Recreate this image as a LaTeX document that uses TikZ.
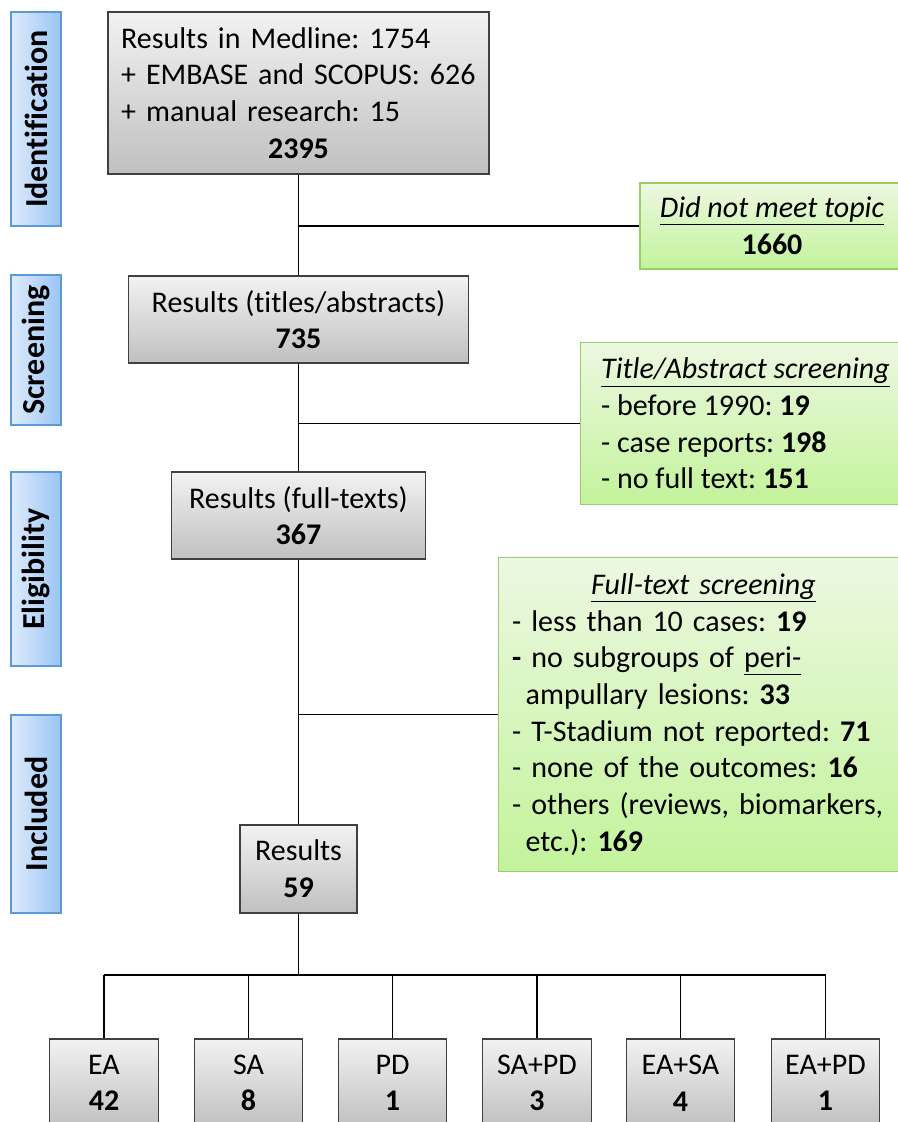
\documentclass[tikz,border=0pt]{standalone}
\usepackage{graphicx}
\usepackage{fontspec}
\setmainfont{Carlito}[Ligatures={NoCommon}]
\frenchspacing
\definecolor{labline}{RGB}{91,155,213}
\definecolor{lablight}{RGB}{222,236,252}
\definecolor{labdark}{RGB}{155,196,245}
\definecolor{resline}{RGB}{64,64,64}
\definecolor{reslight}{RGB}{242,242,242}
\definecolor{resdark}{RGB}{192,192,192}
\definecolor{exline}{RGB}{155,205,106}
\definecolor{exlight}{RGB}{236,248,225}
\definecolor{exdark}{RGB}{195,243,155}
\begin{document}
\begin{tikzpicture}[x=0.75pt,y=0.75pt,yscale=-1,xscale=1,
  font=\fontsize{22.5}{27.5}\selectfont,
  phaselab/.style={draw=labline, line width=0.9pt, left color=lablight, right color=labdark,
    minimum width=37.5pt, inner sep=0pt, font=\fontsize{24}{28}\selectfont\bfseries},
  resbox/.style={draw=resline, line width=0.9pt, top color=reslight, bottom color=resdark, inner sep=0pt},
  exbox/.style={draw=exline, line width=0.9pt, top color=exlight, bottom color=exdark, inner sep=0pt},
  catbox/.style={resbox, minimum width=81.5pt, minimum height=66pt, align=center},
  link/.style={line width=1.4pt}]
        \useasboundingbox (0,0) rectangle (898,1122);
        \clip (0,0) rectangle (898,1122);

        %Phase labels
        \node[phaselab, minimum height=160.5pt] (ident) at (36,119) {\rotatebox{90}{Identification}};
        \node[phaselab, minimum height=112.5pt] (screen) at (36,350) {\rotatebox{90}{Screening}};
        \node[phaselab, minimum height=145.5pt] (elig) at (36,569) {\rotatebox{90}{Eligibility}};
        \node[phaselab, minimum height=148.5pt] (incl) at (36,814) {\rotatebox{90}{Included}};

        %Results boxes
        \node[resbox, minimum width=285.75pt, minimum height=121.5pt, text width=266pt, align=left] (search) at (298.5,93)
          {Results in Medline: 1754\\+ EMBASE and SCOPUS: 626\\+ manual research: 15\\\makebox[\linewidth]{\textbf{2395}}};
        \node[resbox, minimum width=255pt, minimum height=65.25pt, align=center] (titles) at (298.5,319.5)
          {Results (titles/abstracts)\\\textbf{735}};
        \node[resbox, minimum width=190pt, minimum height=65.25pt, align=center] (fulltexts) at (298.5,515.5)
          {Results (full-texts)\\\textbf{367}};
        \node[resbox, minimum width=87.75pt, minimum height=66pt, align=center] (included) at (298.5,869)
          {Results\\\textbf{59}};

        %Exclusion boxes
        \node[exbox, minimum width=198pt, minimum height=64.5pt, align=center] (topic) at (772,226)
          {\underline{\textit{Did not meet topic}}\\\textbf{1660}};
        \node[exbox, minimum width=248pt, minimum height=122pt, align=left] (tascreen) at (745.5,423.5)
          {\underline{\textit{Title/Abstract screening}}\\- before 1990: \textbf{19}\\- case reports: \textbf{198}\\- no full text: \textbf{151}};
        \node[exbox, minimum width=308pt, minimum height=235pt, text width=287pt, align=left] (ftscreen) at (703.5,714.5)
          {\makebox[\linewidth]{\underline{\textit{Full-text screening}}}\\
           - less than 10 cases: \textbf{19}\\
           \textbf{-} no subgroups of \underline{peri-}\\
           \hspace*{0.45em}ampullary lesions: \textbf{33}\\
           - T-Stadium not reported: \textbf{71}\\
           - none of the outcomes: \textbf{16}\\
           - others (reviews, biomarkers,\\
           \hspace*{0.45em}etc.): \textbf{169}};

        %Category boxes
        \foreach \name/\lab/\num/\x in {ea/EA/42/104, sa/SA/8/248.5, pd/PD/1/392.5, sapd/SA+PD/3/537, easa/EA+SA/4/680.5, eapd/EA+PD/1/825.5}
          \node[catbox] (\name) at (\x,1083) {\lab\\\textbf{\num}};

        %Connectors
        \coordinate (split) at (298.5,975);
        \draw[link] (search.south) -- (titles.north);
        \draw[link] (titles.south) -- (fulltexts.north);
        \draw[link] (fulltexts.south) -- (included.north);
        \draw[link] (included.south) -- (split);
        \draw[link] (search.south |- topic.west) -- (topic.west);
        \draw[link] (titles.south |- tascreen.west) -- (tascreen.west);
        \draw[link] (included.north |- ftscreen.west) -- (ftscreen.west);
        \draw[link] (split -| ea.north) -- (split -| eapd.north);
        \foreach \name in {ea,sa,pd,sapd,easa,eapd}
          \draw[link] (split -| \name.north) -- (\name.north);
\end{tikzpicture}
\end{document}
